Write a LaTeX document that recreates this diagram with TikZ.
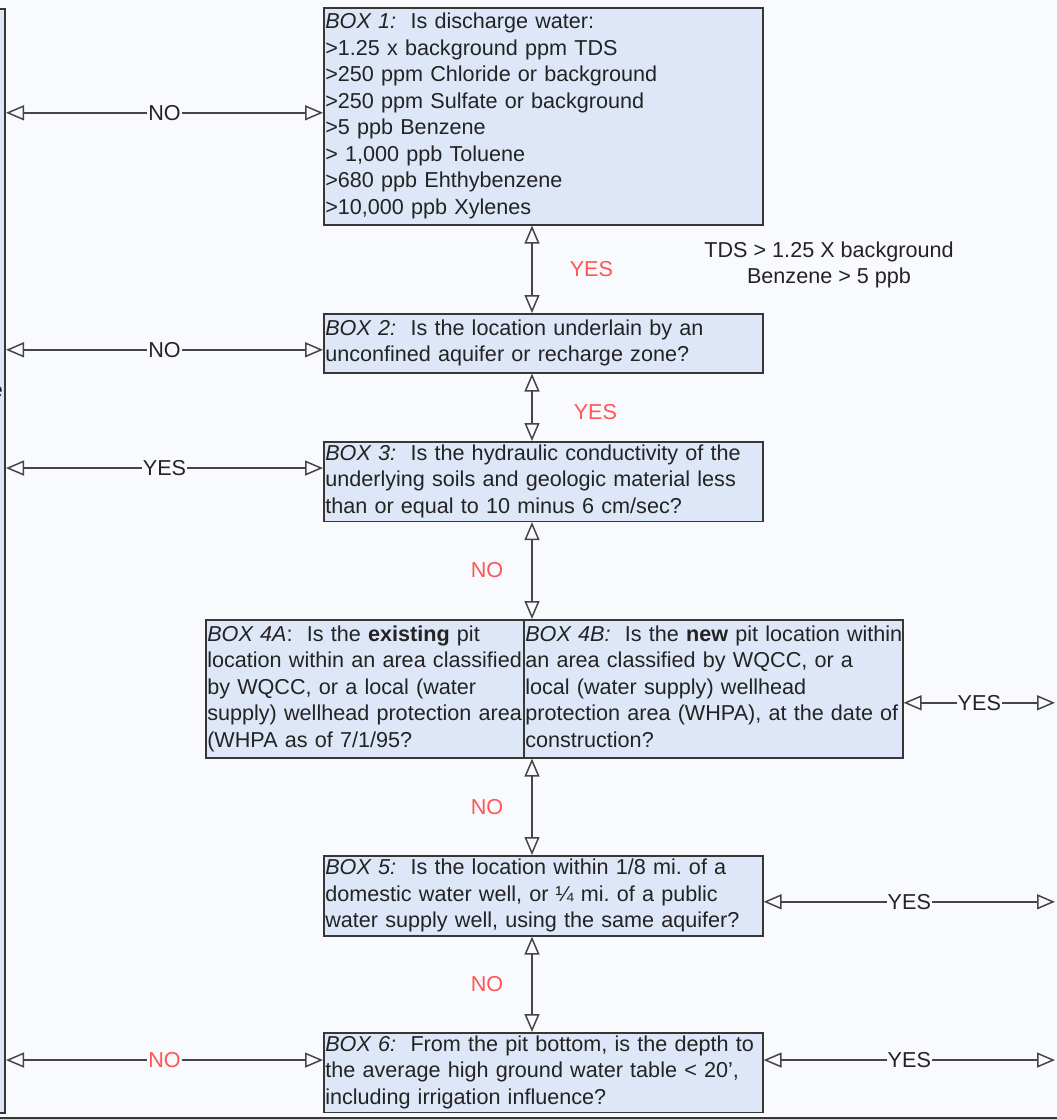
\documentclass[tikz,border=0pt]{standalone}
\usepackage{fontspec}
\setmainfont{Liberation Sans}
\usetikzlibrary{arrows.meta}
\frenchspacing

\definecolor{boxfill}{RGB}{221,231,247}
\definecolor{pagebg}{RGB}{248,250,253}
\definecolor{edgegray}{RGB}{55,55,55}
\definecolor{linkgray}{RGB}{70,70,70}
\definecolor{answerred}{RGB}{255,85,85}
\definecolor{inkgray}{RGB}{35,35,35}

\newcommand{\qtext}[1]{\noindent\begin{tabular}{@{}l@{}}#1\end{tabular}}

\begin{document}
\begin{tikzpicture}
        [x=1pt, y=-1pt,
         every node/.style={font=\fontsize{21.6}{26.5}\selectfont, text=inkgray},
         qbox/.style={draw=edgegray, fill=boxfill, line width=1.6pt, inner xsep=1.5pt, inner ysep=0pt, anchor=north west, align=left},
         link/.style={draw=linkgray, line width=1.5pt, {Triangle[open, length=18pt, width=15pt]}-{Triangle[open, length=18pt, width=15pt]}},
         answer/.style={fill=pagebg, inner sep=1pt},
         redanswer/.style={text=answerred, inner sep=1pt}]

        \useasboundingbox (0,0) rectangle (1057,1119);
        \fill[pagebg] (0,0) rectangle (1057,1119);

        \coordinate (spine) at (532,0);
        \coordinate (edge) at (1055,0);

        % neighbouring boxes, cut off by the page
        \node[qbox, minimum width=60pt, minimum height=1104pt, anchor=north east] (prev) at (6,8) {};
        \node[anchor=east, inner sep=0pt] (prevtxt) at (3,392) {e};
        \node[draw=edgegray, line width=3pt, anchor=north west, minimum width=1100pt, minimum height=40pt] (nextbox) at (-20,1117) {};

        \node[qbox, text width=436pt, minimum height=217pt] (b1) at (323,7) {\qtext{\textit{BOX 1:}\ \ Is discharge water:\\
          >1.25 x background ppm TDS\\
          >250 ppm Chloride or background\\
          >250 ppm Sulfate or background\\
          >5 ppb Benzene\\
          > 1,000 ppb Toluene\\
          >680 ppb Ehthybenzene\\
          >10,000 ppb Xylenes}};
        \node[qbox, text width=436pt, minimum height=59pt] (b2) at (323,313) {\qtext{\textit{BOX 2:}\ \ Is the location underlain by an\\
          unconfined aquifer or recharge zone?}};
        \node[qbox, text width=436pt, minimum height=78pt] (b3) at (323,441) {\qtext{\textit{BOX 3:}\ \ Is the hydraulic conductivity of the\\
          underlying soils and geologic material less\\
          than or equal to 10 minus 6 cm/sec?}};
        \node[qbox, text width=315pt, minimum height=138pt] (b4a) at (205,619) {\qtext{\textit{BOX 4A}:\ \ Is the \textbf{existing} pit\\
          location within an area classified\\
          by WQCC, or a local (water\\
          supply) wellhead protection area\\
          (WHPA as of 7/1/95?}};
        \node[qbox, text width=376pt, minimum height=138pt] (b4b) at (523,619) {\qtext{\textit{BOX 4B:}\ \ Is the \textbf{new} pit location within\\
          an area classified by WQCC, or a\\
          local (water supply) wellhead\\
          protection area (WHPA), at the date of\\
          construction?}};
        \node[qbox, text width=436pt, minimum height=80pt] (b5) at (323,855) {\qtext{\textit{BOX 5:}\ \ Is the location within 1/8 mi. of a\\
          domestic water well, or ¼ mi. of a public\\
          water supply well, using the same aquifer?}};
        \node[qbox, text width=436pt, minimum height=76pt] (b6) at (323,1032) {\qtext{\textit{BOX 6:}\ \ From the pit bottom, is the depth to\\
          the average high ground water table < 20',\\
          including irrigation influence?}};

        \node[align=center] (note) at (829,265) {TDS > 1.25 X background\\Benzene > 5 ppb};

        % down the middle
        \draw[link] (b1.south -| spine) -- (b2.north -| spine) node[redanswer, midway, right=36pt] {YES};
        \draw[link] (b2.south -| spine) -- (b3.north -| spine) node[redanswer, midway, right=40pt, yshift=-5pt] {YES};
        \draw[link] (b3.south -| spine) -- (b4b.north -| spine) node[redanswer, midway, left=27pt] {NO};
        \draw[link] (b4b.south -| spine) -- (b5.north -| spine) node[redanswer, midway, left=27pt] {NO};
        \draw[link] (b5.south -| spine) -- (b6.north -| spine) node[redanswer, midway, left=27pt] {NO};

        % to the left
        \draw[link] ([yshift=3.5pt]b1.west) -- ([yshift=3.5pt]b1.west -| prev.east) node[answer, midway] {NO};
        \draw[link] ([yshift=-6.5pt]b2.west) -- ([yshift=-6.5pt]b2.west -| prev.east) node[answer, midway] {NO};
        \draw[link] ([yshift=13.5pt]b3.west) -- ([yshift=13.5pt]b3.west -| prev.east) node[answer, midway] {YES};
        \draw[link] ([yshift=12.5pt]b6.west) -- ([yshift=12.5pt]b6.west -| prev.east) node[answer, midway, text=answerred] {NO};

        % to the right
        \draw[link] ([yshift=-14pt]b4b.east) -- ([yshift=-14pt]b4b.east -| edge) node[answer, midway] {YES};
        \draw[link] ([yshift=-6pt]b5.east) -- ([yshift=-6pt]b5.east -| edge) node[answer, midway] {YES};
        \draw[link] ([yshift=12.5pt]b6.east) -- ([yshift=12.5pt]b6.east -| edge) node[answer, midway] {YES};

\end{tikzpicture}
\end{document}
